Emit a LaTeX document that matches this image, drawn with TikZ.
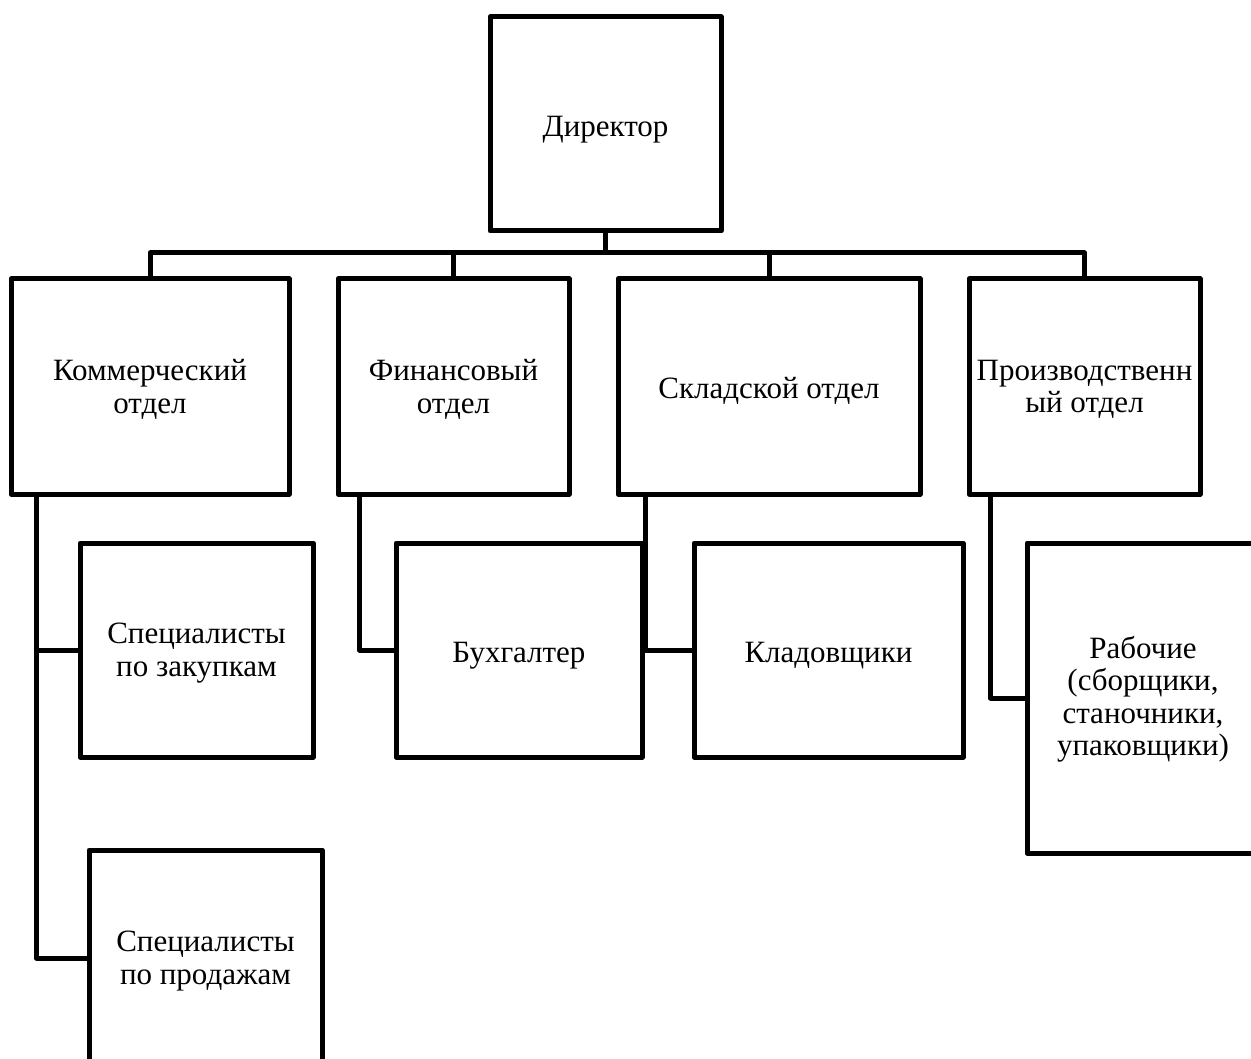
\documentclass[tikz,border=0pt]{standalone}
\usepackage{fontspec}
\setmainfont{Liberation Serif}
\begin{document}
\begin{tikzpicture}[x=1pt,y=-1pt,
  box/.style={draw=black,line width=5pt,line join=round,inner sep=0pt},
  txt/.style={inner sep=0pt,align=center,font=\fontsize{31}{32.5}\selectfont},
  link/.style={draw=black,line width=5pt,line join=round}]
\useasboundingbox (0,0) rectangle (1251,1059);
\clip (0,0) rectangle (1251,1059);
\node[box,minimum width=231pt,minimum height=214pt] (dir) at (605.5,124) {};
\node[box,minimum width=278pt,minimum height=215pt] (komm) at (150,386.5) {};
\node[box,minimum width=231pt,minimum height=215pt] (fin) at (453.5,386.5) {};
\node[box,minimum width=302pt,minimum height=215pt] (sklad) at (769,386.5) {};
\node[box,minimum width=231pt,minimum height=215pt] (prod) at (1084.5,386.5) {};
\node[box,minimum width=233pt,minimum height=214pt] (zak) at (196.5,650) {};
\node[box,minimum width=233pt,minimum height=216pt] (sal) at (205.5,958) {};
\node[box,minimum width=246pt,minimum height=214pt] (buh) at (519,650) {};
\node[box,minimum width=269pt,minimum height=214pt] (klad) at (828.5,650) {};
\node[box,minimum width=232pt,minimum height=310pt] (rab) at (1143,698) {};
\node[txt] (dirt) at ([yshift=-6pt]dir.center) {Директор};
\node[txt] (kommt) at ([yshift=-3pt]komm.center) {Коммерческий\\отдел};
\node[txt] (fint) at ([yshift=-3pt]fin.center) {Финансовый\\отдел};
\node[txt] (skladt) at ([yshift=-4pt]sklad.center) {Складской отдел};
\node[txt] (prodt) at ([yshift=-3pt]prod.center) {Производственн\\ый отдел};
\node[txt] (zakt) at ([yshift=-3pt]zak.center) {Специалисты\\по закупкам};
\node[txt] (salt) at ([yshift=-3pt]sal.center) {Специалисты\\по продажам};
\node[txt] (buht) at ([yshift=-6pt]buh.center) {Бухгалтер};
\node[txt] (kladt) at ([yshift=-6pt]klad.center) {Кладовщики};
\node[txt] (rabt) at ([yshift=-1pt]rab.center) {Рабочие\\(сборщики,\\станочники,\\упаковщики)};
\coordinate (bus) at ([yshift=23.5pt]komm.north);
\draw[link] (komm.north) |- ([yshift=23.5pt]prod.north) -- (prod.north);
\draw[link] (dir.south) -- (dir.south |- bus);
\draw[link] (fin.north) -- (fin.north |- bus);
\draw[link] (sklad.north) -- (sklad.north |- bus);
\draw[link] ([xshift=28pt]komm.south west) |- (zak.west);
\draw[link] ([xshift=28pt]komm.south west) |- (sal.west);
\draw[link] ([xshift=24pt]fin.south west) |- (buh.west);
\draw[link] ([xshift=30pt]sklad.south west) |- (klad.west);
\draw[link] ([xshift=24pt]prod.south west) |- (rab.west);
\end{tikzpicture}
\end{document}
